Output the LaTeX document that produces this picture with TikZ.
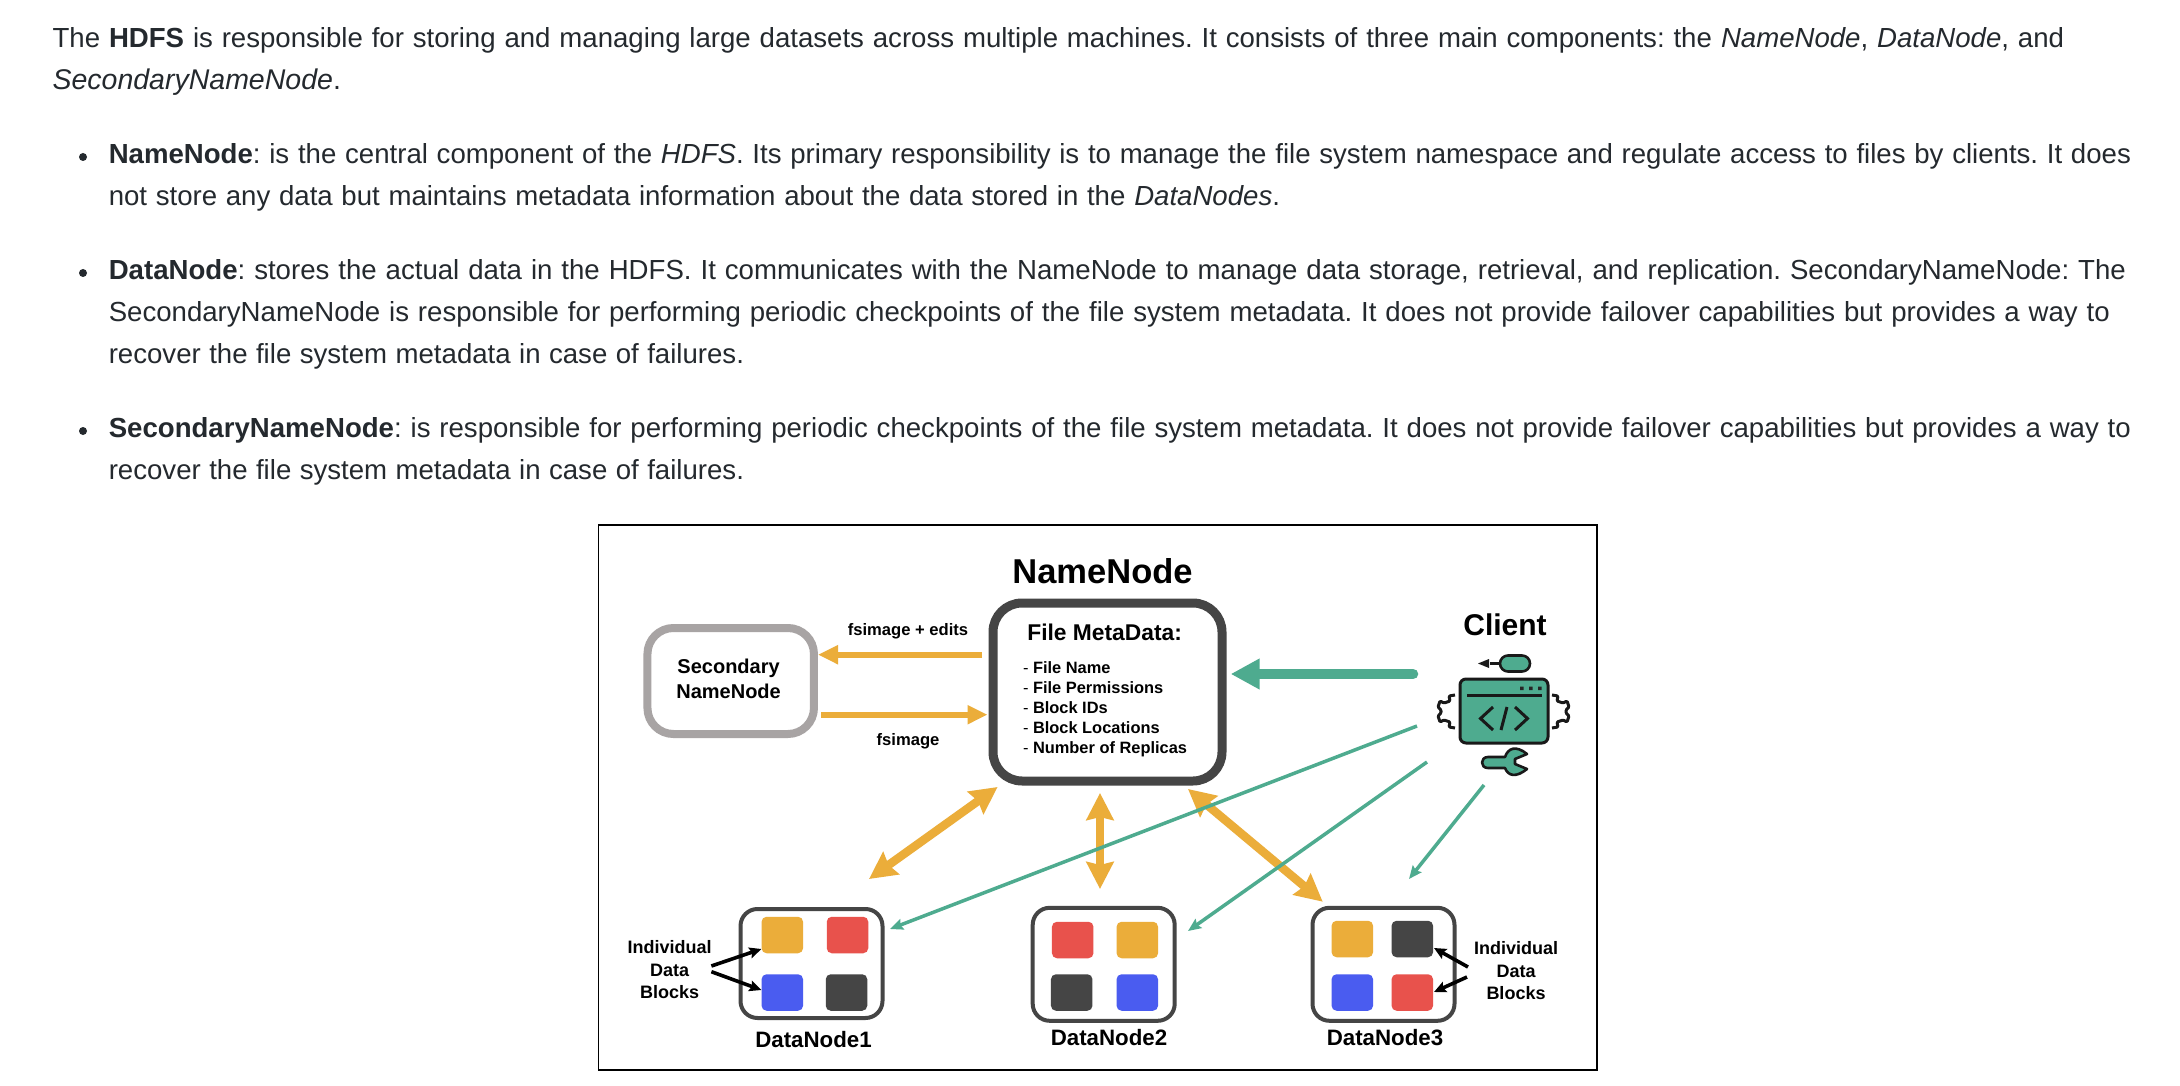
\documentclass[tikz,border=0pt]{standalone}
\usepackage{fontspec}
\setmainfont{Liberation Sans}
\usetikzlibrary{arrows.meta}
\definecolor{cOrange}{HTML}{EBAD3A}
\definecolor{cRed}{HTML}{E8524C}
\definecolor{cBlue}{HTML}{4A5CF0}
\definecolor{cDark}{HTML}{454545}
\definecolor{cGreen}{HTML}{4EAB8F}
\definecolor{cGray}{HTML}{A8A4A4}
\definecolor{cText}{HTML}{24292E}
\newcommand{\fitline}[2]{\makebox[#1pt][s]{\frenchspacing #2}}
\newcommand{\fpx}[1]{\fontsize{#1}{#1}\selectfont}
\tikzset{
  para/.style={anchor=base west,inner sep=0pt,outer sep=0pt,text=cText,font=\fpx{27.6}},
  bull/.style={circle,fill=cText,inner sep=0pt,minimum size=8pt},
  lab/.style={anchor=base,inner sep=0pt,outer sep=0pt,text=black,font=\fpx{#1}\bfseries},
  labw/.style={anchor=base west,inner sep=0pt,outer sep=0pt,text=black,font=\fpx{#1}\bfseries},
  frame/.style={draw=black,line width=1.6pt,fill=white},
  boxr/.style={draw=#1,fill=white,rounded corners=26pt,inner sep=0pt},
  dnbox/.style={draw=cDark,line width=4pt,fill=white,rounded corners=17pt,inner sep=0pt,minimum width=142pt,minimum height=109pt},
  dnboxb/.style={dnbox,minimum height=113pt},
  block/.style={fill=#1,rounded corners=5pt,inner sep=0pt,minimum width=41.5pt,minimum height=36.5pt},
  orangeS/.style={draw=cOrange,line width=6pt,-{Triangle[length=20pt,width=18pt]},cOrange},
  orangeD/.style={draw=cOrange,line width=8.5pt,cOrange,{Stealth[length=27pt,width=27pt,inset=3pt]}-{Stealth[length=27pt,width=27pt,inset=3pt]}},
  greenT/.style={draw=cGreen,line width=3.5pt,cGreen,-{Stealth[length=13pt,width=11pt,inset=2pt]}},
  greenB/.style={draw=cGreen,line width=10.5pt,line cap=round,cGreen,-{Triangle[length=29pt,width=29pt]}},
  blackA/.style={draw=black,line width=3.6pt,-{Stealth[length=12pt,width=11pt,inset=2pt]}},
  ico/.style={draw=black!90,line width=2.6pt,line join=round},
}
\begin{document}
\begin{tikzpicture}[x=1pt,y=-1pt]
\useasboundingbox (0,0) rectangle (2180,1086);
\fill[white] (0,0) rectangle (2180,1086);

% ---- paragraph text
\node[para] (p1a) at (52.6,48) {\fitline{2011.4}{The \textbf{HDFS} is responsible for storing and managing large datasets across multiple machines. It consists of three main components: the \textit{NameNode}, \textit{DataNode}, and}};
\node[para] (p1b) at (52.6,89.5) {\fitline{281.4}{\fpx{28.5}\textit{SecondaryNameNode}.}};
\node[bull] (b1) at (83,157) {};
\node[para] (p2a) at (108.8,163.5) {\fitline{2022.2}{\textbf{NameNode}: is the central component of the \textit{HDFS}. Its primary responsibility is to manage the file system namespace and regulate access to files by clients. It does}};
\node[para] (p2b) at (108.8,205.5) {\fitline{1171.2}{not store any data but maintains metadata information about the data stored in the \textit{DataNodes}.}};
\node[bull] (b2) at (83,273) {};
\node[para] (p3a) at (108.8,279.5) {\fitline{2017.2}{\textbf{DataNode}: stores the actual data in the HDFS. It communicates with the NameNode to manage data storage, retrieval, and replication. SecondaryNameNode: The}};
\node[para] (p3b) at (108.8,321.5) {\fitline{2001.2}{SecondaryNameNode is responsible for performing periodic checkpoints of the file system metadata. It does not provide failover capabilities but provides a way to}};
\node[para] (p3c) at (108.8,363.5) {\fitline{635.2}{recover the file system metadata in case of failures.}};
\node[bull] (b3) at (83,431) {};
\node[para] (p4a) at (108.8,437.5) {\fitline{2022.2}{\textbf{SecondaryNameNode}: is responsible for performing periodic checkpoints of the file system metadata. It does not provide failover capabilities but provides a way to}};
\node[para] (p4b) at (108.8,479.5) {\fitline{635.2}{recover the file system metadata in case of failures.}};

% ---- figure frame
\node[frame,minimum width=998.6pt,minimum height=545.3pt,inner sep=0pt] (fig) at (1097.7,797.35) {};

% ---- main boxes
\node[boxr=cDark,line width=9pt,minimum width=229pt,minimum height=178pt,rounded corners=29pt] (nn) at (1107.5,692) {};
\node[boxr=cGray,line width=8pt,minimum width=166.5pt,minimum height=106pt] (snn) at (730.7,681) {};
\node[lab=34.5] (nnt) at (1102.5,583) {NameNode};
\node[lab=22.8] (fmd) at (1104.6,640) {File MetaData:};
\node[labw=16.4] (m1) at (1023,673) {\textmd{-} File Name};
\node[labw=16.4] (m2) at (1023,693) {\textmd{-} File Permissions};
\node[labw=16.4] (m3) at (1023,713) {\textmd{-} Block IDs};
\node[labw=16.4] (m4) at (1023,733) {\textmd{-} Block Locations};
\node[labw=16.4] (m5) at (1023,753) {\textmd{-} Number of Replicas};
\node[lab=20] (s1) at (728.6,673) {Secondary};
\node[lab=20] (s2) at (728.6,698) {NameNode};
\node[lab=16.6] (le) at (908,635) {fsimage + edits};
\node[lab=16.6] (lf) at (908,745) {fsimage};
\node[lab=30] (cl) at (1505,635) {Client};

% ---- data nodes
\node[dnbox] (d1) at (811.5,963.5) {};
\node[dnboxb] (d2) at (1103.7,964.3) {};
\node[dnboxb] (d3) at (1383.5,964.3) {};
\node[block=cOrange] (d1a) at (782.3,935) {};
\node[block=cRed] (d1b) at (847.5,935) {};
\node[block=cBlue] (d1c) at (782.3,992.5) {};
\node[block=cDark] (d1d) at (846.5,992.5) {};
\node[block=cRed] (d2a) at (1072.7,940) {};
\node[block=cOrange] (d2b) at (1137.3,940) {};
\node[block=cDark] (d2c) at (1071.7,992.5) {};
\node[block=cBlue] (d2d) at (1137.3,992.5) {};
\node[block=cOrange] (d3a) at (1352.3,939) {};
\node[block=cDark] (d3b) at (1412.3,939) {};
\node[block=cBlue] (d3c) at (1352.3,992.5) {};
\node[block=cRed] (d3d) at (1412.3,992.5) {};
\node[lab=22.3] (d1l) at (813.5,1047) {DataNode1};
\node[lab=22.3] (d2l) at (1109,1045) {DataNode2};
\node[lab=22.3] (d3l) at (1385,1045) {DataNode3};
\node[lab=18] (il1) at (669.7,953) {Individual};
\node[lab=18] (il2) at (669.7,976) {Data};
\node[lab=18] (il3) at (669.7,998) {Blocks};
\node[lab=18] (ir1) at (1516,954) {Individual};
\node[lab=18] (ir2) at (1516,977) {Data};
\node[lab=18] (ir3) at (1516,999) {Blocks};

% ---- connector end points
\coordinate (uS) at (982,654.7);   \coordinate (uE) at (818,654.7);
\coordinate (lS) at (821,714.7);   \coordinate (lE) at (987.5,714.7);
\coordinate (a1S) at (997.6,787);  \coordinate (a1E) at (869,879);
\coordinate (a2S) at (1100,793);   \coordinate (a2E) at (1100,889);
\coordinate (a3S) at (1188,789);   \coordinate (a3E) at (1322.7,901.7);
\coordinate (cS) at (1413,674);    \coordinate (cE) at (1230.7,674);
\coordinate (g1S) at (1417,726);   \coordinate (g1E) at (890,929);
\coordinate (g2S) at (1427,762);   \coordinate (g2E) at (1188,931);
\coordinate (g3S) at (1484,785);   \coordinate (g3E) at (1409,879);
\coordinate (k1S) at (711.4,966);  \coordinate (k1E) at (761.4,949);
\coordinate (k2S) at (711.4,971.7);\coordinate (k2E) at (761.4,990);
\coordinate (k3S) at (1468,967);   \coordinate (k3E) at (1434,948);
\coordinate (k4S) at (1467,977);   \coordinate (k4E) at (1434,992);

% ---- connectors
\draw[orangeS] (uS) -- (uE);
\draw[orangeS] (lS) -- (lE);
\draw[orangeD] (a1S) -- (a1E);
\draw[orangeD] (a2S) -- (a2E);
\draw[orangeD] (a3S) -- (a3E);
\draw[greenB] (cS) -- (cE);
\draw[greenT] (g1S) -- (g1E);
\draw[greenT] (g2S) -- (g2E);
\draw[greenT] (g3S) -- (g3E);
\draw[blackA] (k1S) -- (k1E);
\draw[blackA] (k2S) -- (k2E);
\draw[blackA] (k3S) -- (k3E);
\draw[blackA] (k4S) -- (k4E);

% ---- client icon
\draw[ico,fill=cGreen,rounded corners=6pt,line width=3pt] (1460,679) rectangle (1548,743);
\draw[ico,line width=3pt] (1467,695) -- (1542,695);
\fill[black!85] (1520,686.5) rectangle +(3.5,3.5) (1529,686.5) rectangle +(3.5,3.5) (1538,686.5) rectangle +(3.5,3.5);
\draw[ico,line width=3pt,line join=miter] (1493,707) -- (1480.5,718.5) -- (1493,730);
\draw[ico,line width=3pt] (1507,707) -- (1501,730);
\draw[ico,line width=3pt,line join=miter] (1515,707) -- (1527.5,718.5) -- (1515,730);
\draw[ico,fill=cGreen,rounded corners=8pt] (1500,655.5) rectangle (1530,671.5);
\draw[ico] (1500,663.5) -- (1490,663.5);
\fill[black!90] (1478,663.5) -- (1489,659) -- (1489,668) -- cycle;
\draw[ico,line width=3pt,rounded corners=1pt] (1455,695) -- (1449,696) -- (1450,701) -- (1444,703) -- (1440,701) -- (1438,707) -- (1441,710) -- (1441,713) -- (1438,716) -- (1440,722) -- (1444,720) -- (1450,722) -- (1449,727) -- (1455,728);
\draw[ico,line width=3pt,rounded corners=1pt] (1552,695) -- (1558,696) -- (1557,701) -- (1563,703) -- (1567,701) -- (1569,707) -- (1566,710) -- (1566,713) -- (1569,716) -- (1567,722) -- (1563,720) -- (1557,722) -- (1558,727) -- (1552,728);
\draw[ico,fill=cGreen,line join=round] (1488,757) -- (1505,757) .. controls (1508,748) and (1516,745) .. (1527,754) -- (1515,759) -- (1515,764) -- (1527,769) .. controls (1516,778) and (1508,776) .. (1505,768) -- (1488,768) .. controls (1480,768) and (1480,757) .. (1488,757) -- cycle;
\end{tikzpicture}
\end{document}
